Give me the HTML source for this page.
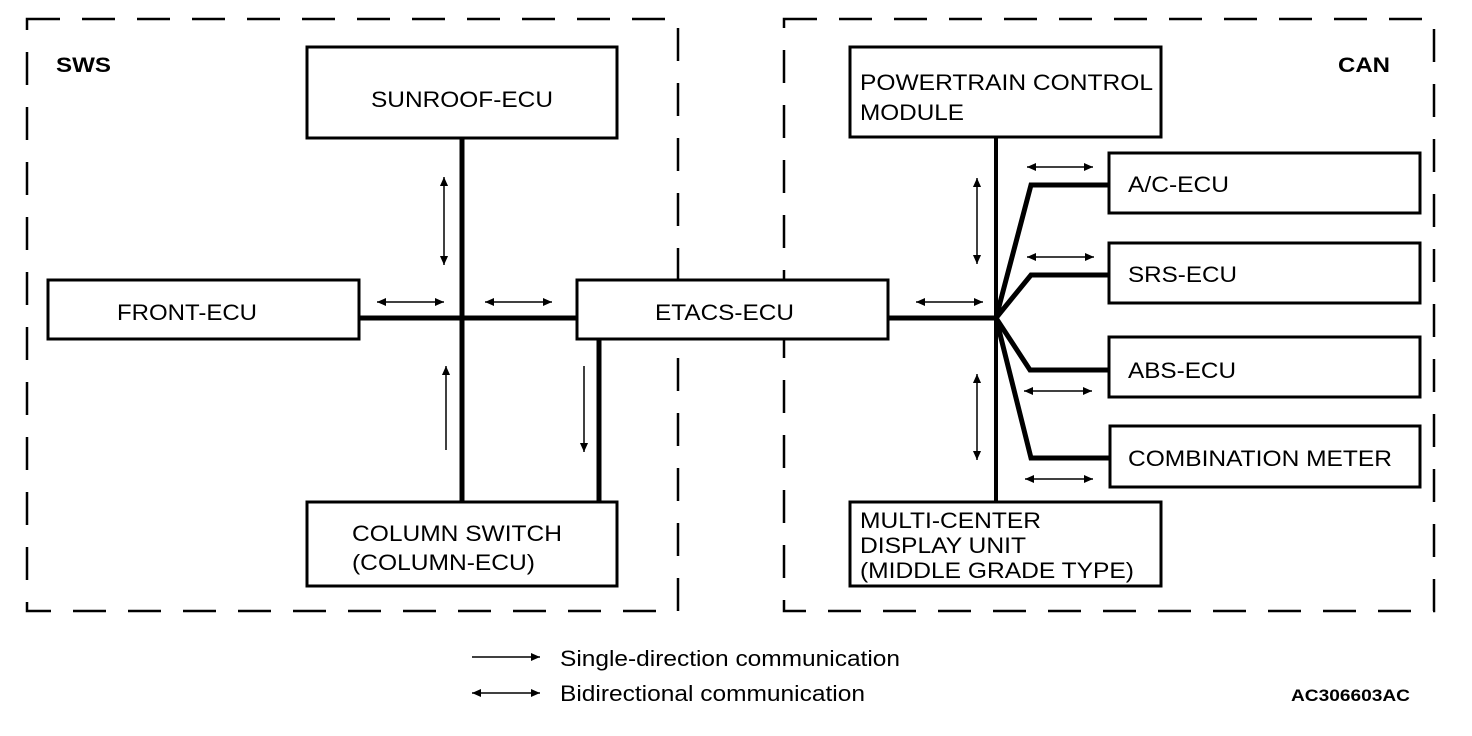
<!DOCTYPE html>
<html><head><style>
html,body{margin:0;padding:0;background:#fff;}
svg{display:block;}
text{font-family:"Liberation Sans",Arial,sans-serif;fill:#000;}
</style></head><body>
<svg width="1472" height="736" viewBox="0 0 1472 736" xmlns="http://www.w3.org/2000/svg">
<defs>
<marker id="ah" viewBox="0 0 10 10" refX="10" refY="5" markerWidth="15" markerHeight="9" markerUnits="userSpaceOnUse" orient="auto-start-reverse">
<path d="M0,0.5 L10,5 L0,9.5 z" fill="#000"/>
</marker>
</defs>
<g fill="none" stroke="#000" stroke-width="2.5" stroke-dasharray="33 22">
<rect x="27" y="19" width="651" height="592"/>
<rect x="784" y="19" width="650" height="592"/>
</g>
<text x="56" y="72" font-size="21" font-weight="bold" textLength="55" lengthAdjust="spacingAndGlyphs">SWS</text>
<text x="1338" y="72" font-size="21" font-weight="bold" textLength="52" lengthAdjust="spacingAndGlyphs">CAN</text>
<g stroke="#000" stroke-width="5" fill="none">
<line x1="462" y1="138" x2="462" y2="502"/>
<line x1="359" y1="318" x2="577" y2="318"/>
<line x1="599" y1="339" x2="599" y2="502"/>
<line x1="888" y1="318" x2="996" y2="318"/>
<line x1="996" y1="137" x2="996" y2="502" stroke-width="4"/>
<polyline points="996,318 1031,185 1109,185"/>
<polyline points="996,318 1031,275 1109,275"/>
<polyline points="996,318 1030,370 1109,370"/>
<polyline points="996,318 1031,458 1110,458"/>
</g>
<g fill="#fff" stroke="#000" stroke-width="3">
<rect x="307" y="47" width="310" height="91"/>
<rect x="48" y="280" width="311" height="59"/>
<rect x="577" y="280" width="311" height="59"/>
<rect x="307" y="502" width="310" height="84"/>
<rect x="850" y="47" width="311" height="90"/>
<rect x="1109" y="153" width="311" height="60"/>
<rect x="1109" y="243" width="311" height="60"/>
<rect x="1109" y="337" width="311" height="60"/>
<rect x="1110" y="426" width="310" height="61"/>
<rect x="850" y="502" width="311" height="84"/>
</g>
<g font-size="22" lengthAdjust="spacingAndGlyphs">
<text x="371" y="107" textLength="182" lengthAdjust="spacingAndGlyphs">SUNROOF-ECU</text>
<text x="117" y="320" textLength="140" lengthAdjust="spacingAndGlyphs">FRONT-ECU</text>
<text x="655" y="320" textLength="139" lengthAdjust="spacingAndGlyphs">ETACS-ECU</text>
<text x="352" y="541" textLength="210" lengthAdjust="spacingAndGlyphs">COLUMN SWITCH</text>
<text x="352" y="570" textLength="183" lengthAdjust="spacingAndGlyphs">(COLUMN-ECU)</text>
<text x="860" y="90" textLength="293" lengthAdjust="spacingAndGlyphs">POWERTRAIN CONTROL</text>
<text x="860" y="120" textLength="104" lengthAdjust="spacingAndGlyphs">MODULE</text>
<text x="1128" y="192" textLength="101" lengthAdjust="spacingAndGlyphs">A/C-ECU</text>
<text x="1128" y="282" textLength="109" lengthAdjust="spacingAndGlyphs">SRS-ECU</text>
<text x="1128" y="378" textLength="108" lengthAdjust="spacingAndGlyphs">ABS-ECU</text>
<text x="1128" y="466" textLength="264" lengthAdjust="spacingAndGlyphs">COMBINATION METER</text>
<text x="860" y="528" textLength="181" lengthAdjust="spacingAndGlyphs">MULTI-CENTER</text>
<text x="860" y="553" textLength="166" lengthAdjust="spacingAndGlyphs">DISPLAY UNIT</text>
<text x="860" y="578" textLength="274" lengthAdjust="spacingAndGlyphs">(MIDDLE GRADE TYPE)</text>
</g>
<g stroke="#000" stroke-width="1.5" fill="none">
<line x1="444" y1="177" x2="444" y2="265" marker-start="url(#ah)" marker-end="url(#ah)"/>
<line x1="377" y1="302" x2="444" y2="302" marker-start="url(#ah)" marker-end="url(#ah)"/>
<line x1="485" y1="302" x2="552" y2="302" marker-start="url(#ah)" marker-end="url(#ah)"/>
<line x1="446" y1="450" x2="446" y2="366" marker-end="url(#ah)"/>
<line x1="584" y1="366" x2="584" y2="452" marker-end="url(#ah)"/>
<line x1="977" y1="178" x2="977" y2="264" marker-start="url(#ah)" marker-end="url(#ah)"/>
<line x1="977" y1="374" x2="977" y2="460" marker-start="url(#ah)" marker-end="url(#ah)"/>
<line x1="916" y1="302" x2="983" y2="302" marker-start="url(#ah)" marker-end="url(#ah)"/>
<line x1="1027" y1="167" x2="1093" y2="167" marker-start="url(#ah)" marker-end="url(#ah)"/>
<line x1="1027" y1="257" x2="1094" y2="257" marker-start="url(#ah)" marker-end="url(#ah)"/>
<line x1="1024" y1="391" x2="1092" y2="391" marker-start="url(#ah)" marker-end="url(#ah)"/>
<line x1="1025" y1="479" x2="1093" y2="479" marker-start="url(#ah)" marker-end="url(#ah)"/>
<line x1="472" y1="657" x2="540" y2="657" marker-end="url(#ah)"/>
<line x1="472" y1="693" x2="540" y2="693" marker-start="url(#ah)" marker-end="url(#ah)"/>
</g>
<text x="560" y="666" font-size="22" textLength="340" lengthAdjust="spacingAndGlyphs">Single-direction communication</text>
<text x="560" y="701" font-size="22" textLength="305" lengthAdjust="spacingAndGlyphs">Bidirectional communication</text>
<text x="1291" y="701" font-size="17" font-weight="bold" textLength="119" lengthAdjust="spacingAndGlyphs">AC306603AC</text>
</svg>
</body></html>
